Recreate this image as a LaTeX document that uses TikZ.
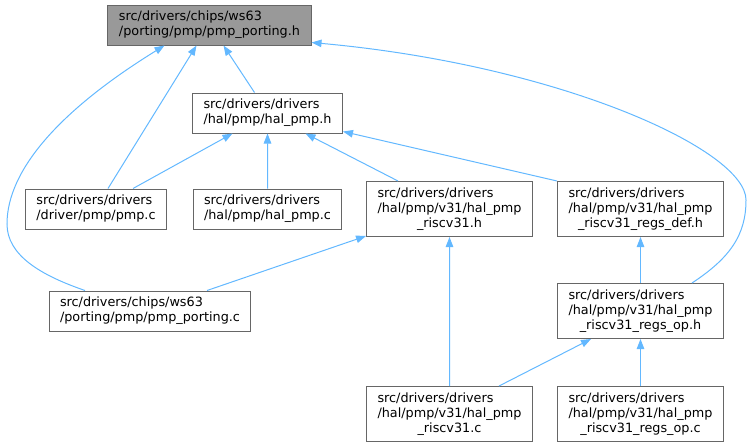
\documentclass[tikz,border=0pt]{standalone}
\usepackage{fontspec}
\setmainfont{DejaVu Sans}
\usepackage{xcolor}
\usepackage{tikz}
\usetikzlibrary{arrows.meta}
\usetikzlibrary{calc}

\definecolor{boxline}{HTML}{666666}
\definecolor{boxgrey}{HTML}{999999}
\definecolor{incblue}{HTML}{63B8FF}

\newcommand{\twolines}[2]{\begin{tabular}{@{}l@{}}#1\\#2\end{tabular}}
\newcommand{\threelines}[3]{\begin{tabular}{@{}l@{}}#1\\#2\\\multicolumn{1}{@{}c@{}}{#3}\end{tabular}}

\tikzset{
	file/.style={draw=boxline, line width=1pt, fill=white, inner xsep=11pt, inner ysep=5pt,
		font=\fontsize{12.8}{15}\selectfont},
	thisfile/.style={file, fill=boxgrey},
	incl/.style={draw=incblue, line width=1pt, -{Triangle[length=10pt,width=7.5pt]}, incblue}
}

\begin{document}
\begin{tikzpicture}[x=1pt, y=-1pt]
\useasboundingbox (0,0) rectangle (752,447);

\node (porth) at (209.5,25) [thisfile]
	{\twolines{src/drivers/chips/ws63}{/porting/pmp/pmp\_porting.h}};
\node (halh) at (267.5,113) [file]
	{\twolines{src/drivers/drivers}{/hal/pmp/hal\_pmp.h}};

\node (pmpc) at (96,209) [file]
	{\twolines{src/drivers/drivers}{/driver/pmp/pmp.c}};
\node (halc) at (267.5,209) [file]
	{\twolines{src/drivers/drivers}{/hal/pmp/hal\_pmp.c}};
\node (rvh) at (449.5,209) [file]
	{\threelines{src/drivers/drivers}{/hal/pmp/v31/hal\_pmp}{\_riscv31.h}};
\node (defh) at (640.5,209) [file]
	{\threelines{src/drivers/drivers}{/hal/pmp/v31/hal\_pmp}{\_riscv31\_regs\_def.h}};

\node (portc) at (150,311) [file]
	{\twolines{src/drivers/chips/ws63}{/porting/pmp/pmp\_porting.c}};
\node (oph) at (640.5,311) [file]
	{\threelines{src/drivers/drivers}{/hal/pmp/v31/hal\_pmp}{\_riscv31\_regs\_op.h}};

\node (rvc) at (449.5,414) [file]
	{\threelines{src/drivers/drivers}{/hal/pmp/v31/hal\_pmp}{\_riscv31.c}};
\node (opc) at (640.5,414) [file]
	{\threelines{src/drivers/drivers}{/hal/pmp/v31/hal\_pmp}{\_riscv31\_regs\_op.c}};

% includes, arrow points at the included header
\draw [incl] ([xshift=-13pt]halh.north) -- ([xshift=14pt]porth.south);
\draw [incl] ([xshift=12pt]pmpc.north) -- ([xshift=-13pt]porth.south);
\draw [incl] ([xshift=-65pt]portc.north) .. controls (40,275) and (7,255) .. (7,224)
	.. controls (7,170) and (60,110) .. ([xshift=-45pt]porth.south);
\draw [incl] ([xshift=51.5pt]oph.north) .. controls (730,258) and (746,235) .. (746,200)
	.. controls (746,150) and (560,65) .. ([yshift=3pt]porth.south east);

\draw [incl] ([xshift=37pt]pmpc.north) -- ([xshift=-35pt]halh.south);
\draw [incl] ([xshift=0.01pt]halc.north) -- (halh.south);
\draw [incl] ([xshift=-51.5pt]rvh.north) -- ([xshift=38pt]halh.south);
\draw [incl] (defh.north west) -- ([yshift=2pt]halh.south east);

\draw [incl] ([xshift=57pt]portc.north) -- ([yshift=1pt]rvh.south west);
\draw [incl] ([xshift=0.01pt]rvc.north) -- (rvh.south);
\draw [incl] (oph.north) -- (defh.south);
\draw [incl] ([xshift=49.5pt]rvc.north) -- ([xshift=-49.5pt]oph.south);
\draw [incl] (opc.north) -- (oph.south);
\end{tikzpicture}
\end{document}
